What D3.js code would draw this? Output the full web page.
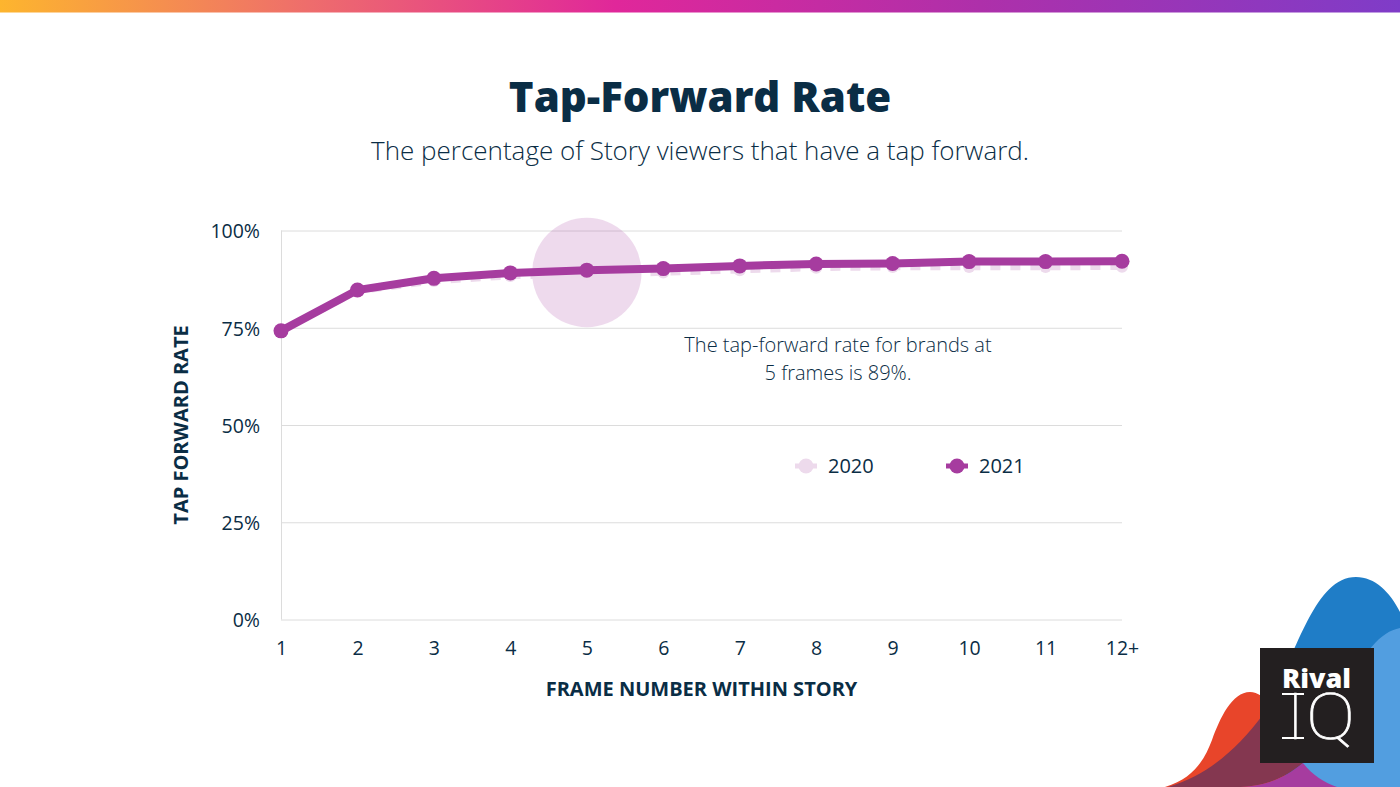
<!DOCTYPE html>
<html lang="en">
<head>
  <meta charset="UTF-8">
  <title>Tap-Forward Rate</title>
  <script src="https://d3js.org/d3.v7.min.js"></script>
  <style>
    html, body { margin: 0; padding: 0; background: #fff; overflow: hidden; }
    svg { display: block; font-family: "Open Sans", "Noto Sans", sans-serif; }
  </style>
</head>
<body>
<div id="graph"></div>
<script>
  const frames = ["1", "2", "3", "4", "5", "6", "7", "8", "9", "10", "11", "12+"];
  const rate2020 = [74.2, 84.4, 87.0, 88.3, 88.6, 89.2, 89.8, 90.4, 90.6, 90.6, 90.6, 90.7];
  const rate2021 = [74.2, 84.7, 87.7, 89.1, 89.8, 90.2, 90.9, 91.4, 91.5, 92.0, 92.0, 92.1];
  const yTicks = [0, 25, 50, 75, 100];

  const width = 1400, height = 787;
  const navy = "#0a2d45", purple = "#a63c9f", pale = "#eddaec";

  const svg = d3.select("#graph").append("svg").attr("width", width).attr("height", height);

  const xScale = d3.scalePoint().domain(frames).range([281, 1122]);
  const yScale = d3.scaleLinear().domain([0, 100]).range([619.5, 230.5]);

  // top gradient strip
  const grad = svg.append("defs").append("linearGradient").attr("id", "strip");
  [["0%", "#fdb52e"], ["22%", "#ee6d6c"], ["44%", "#e0279a"], ["70%", "#ae30aa"], ["100%", "#7f3cc8"]]
    .forEach(s => grad.append("stop").attr("offset", s[0]).attr("stop-color", s[1]));
  svg.append("rect").attr("width", width).attr("height", 12.5).attr("fill", "url(#strip)");

  // titles
  svg.append("text").attr("x", 700).attr("y", 112).attr("text-anchor", "middle")
    .attr("font-size", 42).attr("font-weight", 800).attr("fill", navy).text("Tap-Forward Rate");
  svg.append("text").attr("x", 700).attr("y", 160).attr("text-anchor", "middle")
    .attr("font-size", 26).attr("font-weight", 300).attr("fill", navy)
    .text("The percentage of Story viewers that have a tap forward.");

  // y axis with gridlines
  const yAxis = svg.append("g")
    .attr("transform", "translate(281,0)")
    .call(d3.axisLeft(yScale).tickValues(yTicks).tickFormat(d => d + "%").tickSize(-841).tickPadding(21));
  yAxis.select(".domain").attr("stroke", "#dcdcdc").attr("d", "M0.5,230.5V619.5");
  yAxis.selectAll(".tick line").attr("stroke", "#dcdcdc");
  yAxis.selectAll("text").attr("font-size", 19.5).attr("fill", navy).attr("font-family", "Open Sans").attr("y", 1);

  // x axis
  const xAxis = svg.append("g")
    .attr("transform", "translate(0,619.5)")
    .call(d3.axisBottom(xScale).tickSize(0).tickPadding(22));
  xAxis.select(".domain").remove();
  xAxis.selectAll("text").attr("font-size", 19.5).attr("fill", navy).attr("font-family", "Open Sans");

  // axis titles
  svg.append("text").attr("transform", "translate(188,425) rotate(-90)").attr("text-anchor", "middle")
    .attr("font-size", 20).attr("font-weight", 700).attr("fill", navy).text("TAP FORWARD RATE");
  svg.append("text").attr("x", 701.5).attr("y", 696).attr("text-anchor", "middle")
    .attr("font-size", 20).attr("font-weight", 700).attr("fill", navy).text("FRAME NUMBER WITHIN STORY");

  // highlight behind frame 5
  svg.append("circle").attr("cx", xScale("5")).attr("cy", yScale(89.2)).attr("r", 54.7)
    .attr("fill", purple).attr("fill-opacity", 0.19);

  const lineGen = d3.line().x((d, i) => xScale(frames[i])).y(d => yScale(d));

  // 2020 series
  svg.append("path").attr("d", lineGen(rate2020)).attr("fill", "none")
    .attr("stroke", pale).attr("stroke-width", 6.5).attr("stroke-dasharray", "10,10");
  svg.selectAll(".pt2020").data(rate2020).enter().append("circle").attr("class", "pt2020")
    .attr("cx", (d, i) => xScale(frames[i])).attr("cy", d => yScale(d)).attr("r", 6).attr("fill", pale);

  // 2021 series
  svg.append("path").attr("d", lineGen(rate2021)).attr("fill", "none")
    .attr("stroke", purple).attr("stroke-width", 8);
  svg.selectAll(".pt2021").data(rate2021).enter().append("circle").attr("class", "pt2021")
    .attr("cx", (d, i) => xScale(frames[i])).attr("cy", d => yScale(d)).attr("r", 7.5).attr("fill", purple);

  // annotation
  const note = svg.append("text").attr("text-anchor", "middle").attr("font-size", 20)
    .attr("font-weight", 300).attr("fill", navy);
  note.append("tspan").attr("x", 838).attr("y", 352).text("The tap-forward rate for brands at");
  note.append("tspan").attr("x", 838).attr("y", 380).text("5 frames is 89%.");

  // legend
  [{ label: "2020", color: pale, x: 806 }, { label: "2021", color: purple, x: 957 }].forEach(d => {
    svg.append("rect").attr("x", d.x - 11).attr("y", 463.5).attr("width", 22).attr("height", 5).attr("fill", d.color);
    svg.append("circle").attr("cx", d.x).attr("cy", 466).attr("r", 7.5).attr("fill", d.color);
    svg.append("text").attr("x", d.x + 22).attr("y", 473).attr("font-size", 20).attr("fill", navy).text(d.label);
  });

  // corner artwork and logo
  const art = svg.append("g");
  art.append("path").attr("fill", "#1f7dc7")
    .attr("d", "M1270,700C1298,650 1315,577 1356,577C1375,577 1390,592 1400,612V787H1270Z");
  art.append("path").attr("fill", "#e8452a")
    .attr("d", "M1165,787C1195,778 1205,758 1212,740C1220,718 1232,692 1250,692C1262,692 1272,705 1285,725V787Z");
  art.append("path").attr("fill", "#843750")
    .attr("d", "M1168,787C1210,775 1240,745 1262,716L1303,763C1285,778 1265,787 1235,787Z");
  art.append("path").attr("fill", "#a63c9f")
    .attr("d", "M1235,787C1265,787 1285,778 1303,763L1340,787Z");
  art.append("path").attr("fill", "#529ee0")
    .attr("d", "M1303,763L1340,700C1365,650 1380,632 1400,628V787H1337C1325,783 1312,775 1303,763Z");

  svg.append("rect").attr("x", 1260).attr("y", 648).attr("width", 114).attr("height", 115).attr("fill", "#231f20");
  svg.append("text").attr("x", 1316.5).attr("y", 688).attr("text-anchor", "middle")
    .attr("font-size", 27).attr("font-weight", 800).attr("fill", "#fff").text("Rival");
  svg.append("text").attr("x", 1287).attr("y", 739).attr("font-size", 64).attr("font-weight", 100)
    .attr("font-family", "Roboto").attr("fill", "#fff").attr("stroke", "#fff").attr("stroke-width", 0.7).text("I");
  svg.append("text").attr("x", 1306).attr("y", 739).attr("font-size", 64).attr("font-weight", 100)
    .attr("font-family", "Roboto").attr("fill", "#fff").attr("stroke", "#fff").attr("stroke-width", 0.7)
    .attr("textLength", 49).attr("lengthAdjust", "spacingAndGlyphs").text("Q");
  svg.append("rect").attr("x", 1282).attr("y", 693).attr("width", 22).attr("height", 2).attr("fill", "#fff");
  svg.append("rect").attr("x", 1282).attr("y", 737).attr("width", 22).attr("height", 2).attr("fill", "#fff");
</script>
</body>
</html>
